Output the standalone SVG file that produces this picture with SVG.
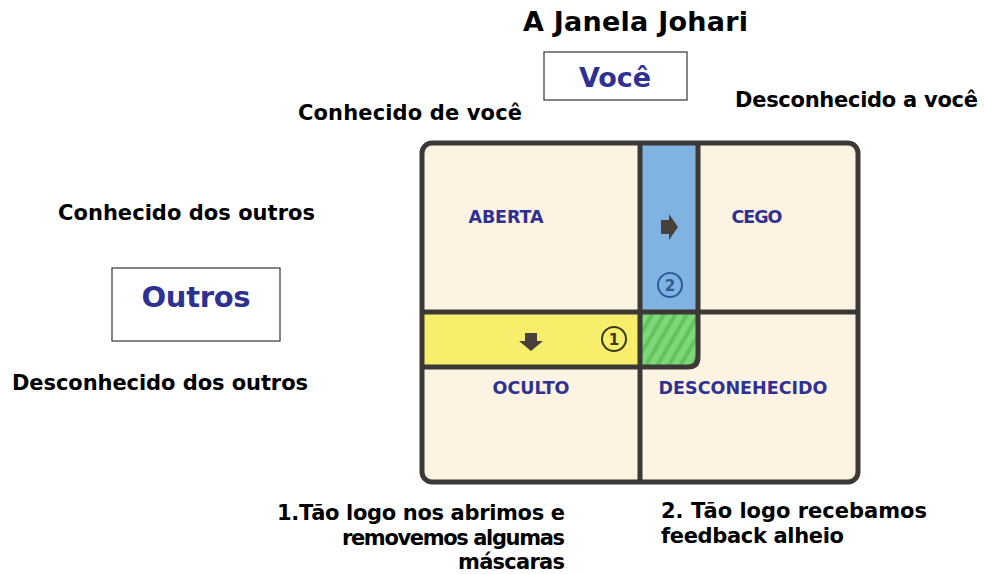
<svg xmlns="http://www.w3.org/2000/svg" width="984" height="574" viewBox="0 0 984 574">
<style>
.t{font-family:"DejaVu Sans","Verdana",sans-serif;font-weight:bold;fill:#000;font-size:21px}
.q{font-family:"DejaVu Sans","Verdana",sans-serif;font-weight:bold;fill:#2e3192;font-size:17.5px;text-anchor:middle}
.b{font-family:"DejaVu Sans","Verdana",sans-serif;font-weight:bold;fill:#2e3192;text-anchor:middle}
.bx{fill:#fff;stroke:#444;stroke-width:1.3}
.ln{stroke:#3b3835;stroke-width:5;fill:none}
.ic{fill:#4a403a}
.cir{fill:none;stroke-width:2}
.n{font-family:"DejaVu Sans",sans-serif;font-weight:bold;font-size:15px;text-anchor:middle}
</style>
<defs>
<pattern id="st" patternUnits="userSpaceOnUse" width="10" height="10" patternTransform="rotate(30)">
<rect width="10" height="10" fill="#7dd878"/>
<rect width="4" height="10" fill="#62c35f"/>
</pattern>
</defs>
<rect width="984" height="574" fill="#fff"/>
<g id="title"><text class="t" x="523" y="31" style="font-size:27px" textLength="225">A Janela Johari</text></g>
<g id="voce">
<rect class="bx" x="544" y="52" width="143" height="48"/>
<text class="b" x="615" y="87" style="font-size:27px" textLength="72">Você</text>
</g>
<g id="outros">
<rect class="bx" x="112" y="268" width="168" height="73"/>
<text class="b" x="196" y="307" style="font-size:29px" textLength="109">Outros</text>
</g>
<g id="labels">
<text class="t" x="298" y="120" textLength="224">Conhecido de você</text>
<text class="t" x="735" y="107" textLength="243">Desconhecido a você</text>
<text class="t" x="58" y="220" textLength="257">Conhecido dos outros</text>
<text class="t" x="12" y="390" textLength="296">Desconhecido dos outros</text>
<text class="t" x="277" y="520" textLength="288">1.Tão logo nos abrimos e</text>
<text class="t" x="342" y="545" textLength="223">removemos algumas</text>
<text class="t" x="458" y="569" textLength="107">máscaras</text>
<text class="t" x="661" y="518" textLength="266">2. Tão logo recebamos</text>
<text class="t" x="661" y="543" textLength="183">feedback alheio</text>
</g>
<g id="window">
<rect x="422" y="143" width="436" height="339" rx="10" fill="#fdf3e2"/>
<rect x="640" y="143" width="58" height="169" fill="#80b3e1"/>
<rect x="422" y="312" width="218" height="55" fill="#f7ef6c"/>
<path d="M640 312 H698 V357 Q698 367 688 367 H640 Z" fill="url(#st)"/>
<line class="ln" x1="640" y1="143" x2="640" y2="482"/>
<line class="ln" x1="422" y1="312" x2="858" y2="312"/>
<path class="ln" d="M698 143 V357 Q698 367 688 367 H422"/>
<rect class="ln" x="422" y="143" width="436" height="339" rx="10"/>
</g>
<g id="quadrants">
<text class="q" x="506" y="223" textLength="75">ABERTA</text>
<text class="q" x="757" y="223" textLength="51">CEGO</text>
<text class="q" x="531" y="394" textLength="77">OCULTO</text>
<text class="q" x="743" y="394" textLength="169">DESCONEHECIDO</text>
</g>
<g id="icons">
<path class="ic" d="M661 220 H669 V214 L678 227 L669 240 V234 H661 Z"/>
<path class="ic" d="M525 333 H537 V341 H543 L531 351 L519 341 H525 Z"/>
<circle class="cir" cx="670" cy="285" r="12" stroke="#2e5a9a"/>
<text class="n" x="670" y="290.5" fill="#2e5a9a">2</text>
<circle class="cir" cx="614" cy="339" r="12" stroke="#3a3a20"/>
<text class="n" x="614" y="344.5" fill="#3a3a20">1</text>
</g>
</svg>
